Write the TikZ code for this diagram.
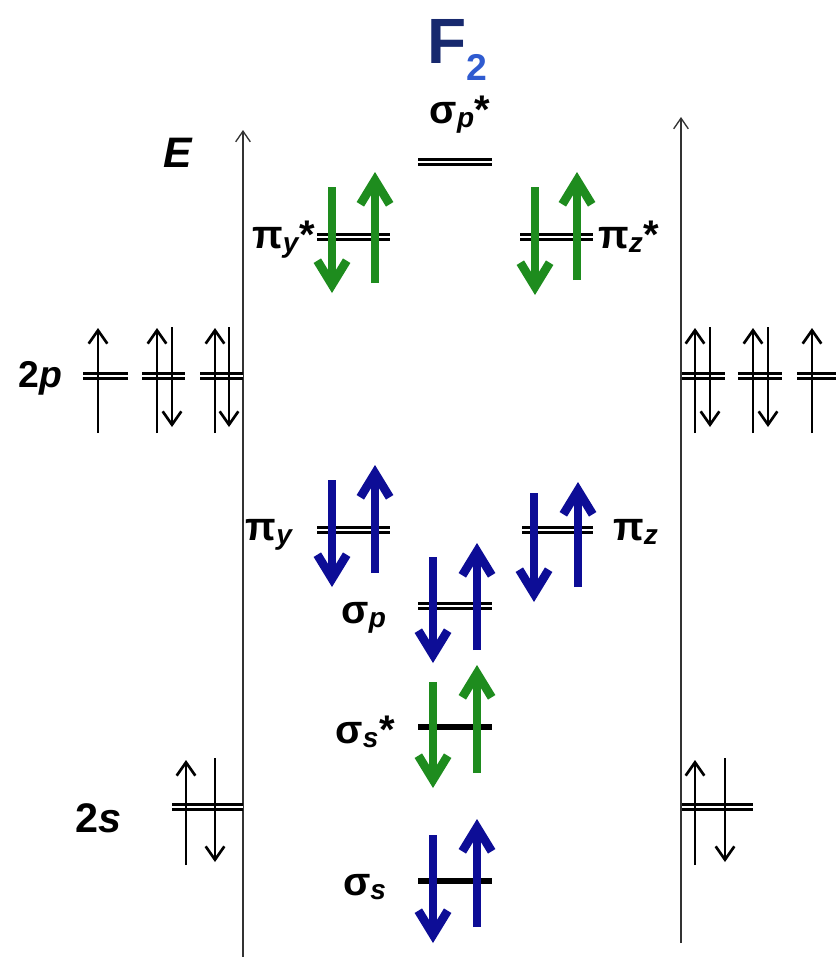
\documentclass[tikz,border=0pt]{standalone}
\usepackage{fontspec}
\setmainfont{Liberation Sans}
\usetikzlibrary{arrows.meta,positioning}
\definecolor{spingreen}{HTML}{1E8C1E}
\definecolor{spinblue}{HTML}{0D0D96}
\definecolor{titlenavy}{HTML}{17296E}
\definecolor{titleblue}{HTML}{2F5BD0}
\definecolor{axisgrey}{HTML}{333333}
\newcommand{\orb}[3]{#1\textsubscript{\itshape #2}#3}

\begin{document}
\begin{tikzpicture}[x=0.75pt, y=-0.75pt,
    lvl/.style={draw=black, double=white, line width=2.5pt, double distance=1.5pt},
    slvl/.style={draw=black, line width=3.8pt},
    axis/.style={draw=axisgrey, line width=1pt, -{Straight Barb[length=8pt,width=11pt]}},
    blackspin/.style={draw=black, line width=2pt, -{Straight Barb[length=10pt,width=14pt]}},
    greenspin/.style={draw=spingreen, line width=6.5pt, -{Straight Barb[length=18pt,width=22pt]}},
    bluespin/.style={draw=spinblue, line width=6.5pt, -{Straight Barb[length=18pt,width=22pt]}},
    lbl/.style={font=\bfseries\fontsize{30}{32}\selectfont, inner sep=0pt}
]
\useasboundingbox (0,0) rectangle (836,957);

% title and energy axes
\node[anchor=base west, inner sep=0pt, font=\bfseries] (title) at (427,63)
    {{\fontsize{48}{50}\selectfont\color{titlenavy}F}{\fontsize{28}{30}\selectfont\color{titleblue}\raisebox{-13pt}{2}}};
\node[lbl, anchor=base west, font=\bfseries\itshape\fontsize{32}{34}\selectfont] (elabel) at (163,167) {E};
\coordinate (laxbot) at (243,957);
\coordinate (laxtop) at (243,130);
\coordinate (raxbot) at (681,943);
\coordinate (raxtop) at (681,117);
\draw[axis] (laxbot) -- (laxtop);
\draw[axis] (raxbot) -- (raxtop);

% atomic orbitals
\node[lbl, anchor=base west, font=\bfseries\fontsize{28}{30}\selectfont] (twopl) at (18,387) {2\textit{p}};
\node[lbl, anchor=base west, font=\bfseries\fontsize{31}{33}\selectfont] (twosl) at (75,832) {2\textit{s}};
\foreach \xa/\xb in {83/128, 142/185, 200/243, 682/725, 738/782, 797/836}
    \draw[lvl] (\xa,376) -- (\xb,376);
\draw[lvl] (172,807) -- (243,807);
\draw[lvl] (682,807) -- (753,807);
\foreach \x in {98,157,215,695,753,812}
    \draw[blackspin] (\x,433) -- (\x,328);
\foreach \x in {172,229,710,768}
    \draw[blackspin] (\x,327) -- (\x,427);
\foreach \x in {186,695}
    \draw[blackspin] (\x,865) -- (\x,760);
\foreach \x in {215,725}
    \draw[blackspin] (\x,758) -- (\x,862);

% molecular orbitals
\node[lbl, anchor=base] (sigpstar) at (460,123) {\orb{σ}{p}{*}};
\draw[lvl] (418,162) -- (492,162);

\node[lbl, anchor=base east] (piystar) at (315,248) {\orb{π}{y}{*}};
\draw[lvl] (317,237) -- (390,237);
\draw[greenspin] (332,187) -- (332,293);
\draw[greenspin] (375,283) -- (375,172);

\node[lbl, anchor=base west] (pizstar) at (598,248) {\orb{π}{z}{*}};
\draw[lvl] (520,237) -- (593,237);
\draw[greenspin] (535,187) -- (535,295);
\draw[greenspin] (577,280) -- (577,172);

\node[lbl, anchor=base east] (piy) at (293,540) {\orb{π}{y}{}};
\draw[lvl] (317,530) -- (390,530);
\draw[bluespin] (332,480) -- (332,587);
\draw[bluespin] (375,573) -- (375,465);

\node[lbl, anchor=base west] (piz) at (613,540) {\orb{π}{z}{}};
\draw[lvl] (522,530) -- (593,530);
\draw[bluespin] (534,493) -- (534,602);
\draw[bluespin] (578,587) -- (578,482);

\node[lbl, anchor=base east] (sigp) at (387,623) {\orb{σ}{p}{}};
\draw[lvl] (418,606) -- (492,606);
\draw[bluespin] (433,557) -- (433,663);
\draw[bluespin] (477,650) -- (477,543);

\node[lbl, anchor=base east] (sigsstar) at (395,743) {\orb{σ}{s}{*}};
\draw[slvl] (418,727) -- (492,727);
\draw[greenspin] (433,682) -- (433,788);
\draw[greenspin] (477,773) -- (477,665);

\node[lbl, anchor=base east] (sigs) at (387,895) {\orb{σ}{s}{}};
\draw[slvl] (418,881) -- (492,881);
\draw[bluespin] (433,835) -- (433,943);
\draw[bluespin] (477,927) -- (477,819);
\end{tikzpicture}
\end{document}
